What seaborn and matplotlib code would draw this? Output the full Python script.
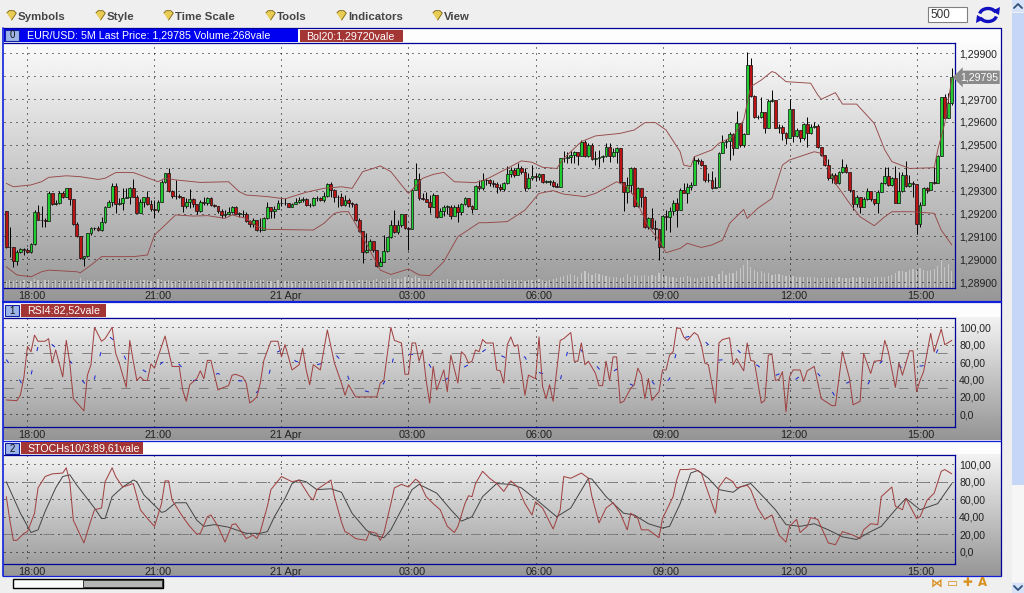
#chart of EUR/USD 5M candles with RSI and stochastic panes
import numpy as np
import pandas as pd
import seaborn as sns
import matplotlib.pyplot as plt
from matplotlib.patches import Rectangle, Arc, Polygon
from matplotlib.transforms import ScaledTranslation

#candle values in 1e-5 above 1.0, bar 0 is 17:30, 5 min per bar
first_open = 29211
closes = [29055,29052,28993,29033,29044,29040,29033,29065,29205,29172,
          29172,29169,29288,29240,29245,29288,29274,29310,29264,29155,
          29102,29004,29015,29114,29135,29135,29128,29165,29227,29249,
          29320,29242,29245,29266,29274,29310,29274,29204,29252,29271,
          29242,29218,29215,29252,29336,29376,29300,29277,29277,29274,
          29233,29252,29263,29240,29211,29252,29245,29266,29237,29234,
          29211,29194,29200,29208,29227,29200,29200,29197,29167,29154,
          29172,29128,29128,29179,29230,29211,29222,29245,29248,29245,
          29230,29242,29252,29260,29262,29237,29237,29266,29266,29260,
          29277,29329,29303,29274,29271,29237,29259,29245,29242,29172,
          29125,29033,29040,29081,29040,28971,28990,29038,29096,29150,
          29118,29150,29197,29135,29132,29303,29350,29266,29262,29252,
          29230,29281,29186,29213,29230,29230,29189,29230,29208,29242,
          29266,29233,29218,29320,29310,29346,29346,29335,29329,29317,
          29306,29332,29373,29390,29368,29397,29383,29310,29354,29365,
          29361,29371,29339,29339,29339,29320,29317,29441,29441,29448,
          29455,29470,29451,29514,29451,29500,29437,29441,29448,29451,
          29492,29451,29470,29485,29339,29296,29325,29400,29233,29312,
          29274,29140,29179,29135,29131,29055,29189,29186,29213,29245,
          29215,29303,29291,29315,29325,29434,29431,29412,29346,29346,
          29310,29317,29466,29514,29518,29547,29485,29594,29500,29546,
          29849,29713,29620,29620,29645,29575,29692,29696,29575,29579,
          29553,29528,29655,29539,29565,29528,29591,29550,29579,29582,
          29489,29456,29412,29354,29368,29335,29383,29405,29383,29303,
          29242,29271,29227,29262,29300,29262,29248,29296,29332,29364,
          29323,29354,29248,29300,29368,29320,29332,29329,29154,29237,
          29310,29303,29336,29332,29451,29708,29616,29681,29795]
highs = [29211,29140,29052,29041,29048,29048,29048,29073,29215,29237,
         29233,29179,29300,29291,29259,29300,29300,29310,29310,29264,
         29165,29102,29015,29116,29140,29143,29146,29186,29233,29259,
         29332,29335,29266,29310,29310,29317,29349,29281,29262,29274,
         29300,29259,29259,29259,29347,29379,29400,29303,29347,29285,
         29274,29266,29306,29266,29242,29259,29274,29274,29274,29242,
         29230,29218,29215,29227,29233,29233,29208,29215,29208,29172,
         29179,29172,29179,29186,29252,29230,29233,29259,29274,29266,
         29248,29248,29266,29274,29274,29266,29245,29271,29277,29274,
         29296,29335,29338,29306,29281,29288,29281,29266,29252,29245,
         29179,29121,29114,29087,29082,29041,29012,29106,29099,29172,
         29215,29172,29198,29189,29143,29306,29419,29376,29288,29296,
         29281,29288,29281,29223,29237,29237,29237,29237,29242,29248,
         29274,29266,29237,29325,29347,29376,29354,29349,29347,29339,
         29329,29339,29408,29402,29397,29422,29408,29397,29376,29412,
         29379,29376,29368,29347,29347,29347,29335,29444,29475,29470,
         29475,29475,29470,29521,29521,29507,29507,29475,29478,29456,
         29510,29507,29485,29489,29480,29339,29361,29402,29405,29317,
         29310,29277,29183,29223,29172,29131,29194,29215,29230,29259,
         29266,29310,29335,29335,29339,29451,29441,29437,29408,29376,
         29387,29361,29470,29543,29524,29558,29550,29649,29597,29553,
         29904,29878,29718,29630,29711,29645,29699,29740,29693,29591,
         29587,29558,29699,29655,29572,29562,29597,29620,29591,29601,
         29591,29492,29456,29437,29379,29376,29387,29437,29416,29383,
         29303,29281,29271,29274,29310,29296,29262,29303,29339,29402,
         29405,29361,29408,29383,29383,29431,29368,29344,29325,29252,
         29317,29317,29339,29405,29456,29711,29722,29725,29834]
lows = [29048,29012,28965,28975,29026,29019,29026,29026,29063,29172,
        29143,29140,29172,29237,29237,29242,29269,29271,29237,29150,
        29099,29000,28972,29012,29106,29128,29125,29125,29160,29227,
        29233,29201,29237,29215,29266,29242,29271,29201,29201,29230,
        29237,29213,29179,29208,29249,29335,29296,29266,29264,29266,
        29208,29223,29223,29227,29198,29208,29237,29237,29234,29227,
        29201,29179,29186,29194,29204,29198,29186,29186,29165,29143,
        29143,29125,29118,29128,29175,29179,29179,29223,29233,29237,
        29227,29230,29242,29248,29252,29233,29227,29233,29256,29255,
        29252,29274,29271,29252,29230,29234,29234,29230,29230,29169,
        29121,28983,29029,29041,29033,28968,28975,28990,29033,29092,
        29114,29111,29143,29131,29041,29132,29303,29259,29259,29249,
        29204,29230,29179,29183,29189,29198,29175,29208,29165,29194,
        29237,29230,29201,29223,29303,29303,29325,29320,29314,29288,
        29300,29300,29329,29361,29361,29368,29373,29300,29306,29347,
        29344,29347,29332,29332,29325,29314,29314,29317,29427,29419,
        29422,29419,29412,29451,29448,29448,29434,29412,29405,29427,
        29446,29427,29446,29422,29332,29213,29248,29288,29230,29230,
        29230,29135,29131,29131,29084,28997,29048,29128,29121,29194,
        29143,29215,29288,29248,29303,29329,29416,29408,29339,29339,
        29306,29310,29329,29466,29485,29434,29456,29492,29489,29492,
        29550,29708,29616,29612,29616,29550,29572,29689,29572,29553,
        29521,29504,29533,29514,29536,29514,29521,29489,29547,29572,
        29485,29451,29408,29347,29335,29329,29329,29379,29376,29296,
        29215,29230,29201,29227,29259,29256,29237,29201,29296,29329,
        29320,29320,29245,29248,29296,29317,29317,29274,29111,29143,
        29237,29291,29303,29329,29332,29451,29612,29620,29674]
volumes = [110,120,105,125,115,130,120,110,135,125,
           115,120,130,110,125,105,120,115,125,130,
           120,160,115,125,110,120,105,115,125,110,
           120,130,115,105,120,125,110,115,120,130,
           125,115,130,140,120,110,125,115,105,120,
           115,110,120,105,115,125,110,120,115,105,
           115,120,110,105,115,125,110,105,120,115,
           110,120,125,130,115,110,105,120,115,110,
           105,110,115,105,110,120,105,110,115,105,
           120,125,110,115,105,110,120,105,115,110,
           125,130,120,115,125,135,115,130,140,150,
           140,135,145,170,210,160,190,150,130,120,
           125,115,130,120,125,135,120,115,125,130,
           125,120,130,125,115,120,125,130,120,115,
           125,135,120,125,130,120,125,115,120,125,
           130,135,120,115,125,140,150,175,190,210,
           220,200,180,240,260,230,210,240,225,200,
           190,180,175,170,165,175,220,180,200,185,
           195,210,190,200,185,240,210,195,180,170,
           165,170,180,190,170,165,160,175,170,185,
           190,160,220,260,210,230,240,270,310,360,
           440,330,290,250,270,230,240,210,220,215,
           200,185,210,190,175,180,170,175,180,170,
           165,160,175,165,170,160,175,165,155,160,
           175,165,170,180,160,165,175,180,170,175,
           190,200,240,260,270,250,280,300,290,310,
           280,270,290,300,340,460,330,380,268]

#bollinger bands, sampled at the turning points
upper_x = [0,2,7,10,12,17,21,26,28,31,36,38,43,45,48,55,63,66,68,74,79,81,85,90,95,
           98,101,104,106,109,112,114,118,121,124,127,133,136,142,146,149,152,156,158,163,
           167,174,178,181,184,187,191,192,194,195,200,202,206,209,211,214,217,218,221,
           228,230,231,235,237,241,246,249,251,256,263,264,266,268]
upper_y = [29332,29317,29325,29339,29358,29365,29361,29349,29354,29379,29379,29368,29339,29354,29347,29336,
           29339,29296,29281,29274,29264,29274,29293,29310,29317,
           29310,29383,29397,29408,29383,29325,29288,29354,29371,29380,29339,29335,29349,29397,29430,29424,
           29402,29397,29441,29514,29539,29550,29565,29597,29597,29565,29470,29412,29405,29448,29478,29507,
           29536,29609,29754,29783,29820,29815,29776,29769,29718,29699,29728,29678,29678,29594,29478,29427,
           29397,29400,29478,29594,29790]
lower_x = [0,3,7,10,12,20,21,24,27,36,40,42,45,48,53,57,62,64,68,71,74,87,90,93,95,
           97,100,104,106,109,114,117,120,124,128,134,136,142,147,151,155,158,164,167,173,
           176,178,182,185,187,191,193,197,200,203,205,209,210,213,217,220,222,229,231,
           235,239,242,246,249,251,257,263,265,268]
lower_y = [28968,28932,28924,28946,28953,28946,28942,28975,29012,29012,29019,29106,29150,29194,29189,29191,
           29179,29194,29179,29143,29131,29128,29157,29201,29208,
           29208,29128,29012,28953,28934,28958,28932,28929,28990,29099,29160,29160,29165,29215,29288,29300,
           29285,29274,29288,29339,29317,29274,29143,29084,29029,29048,29070,29052,29063,29084,29157,29218,
           29179,29223,29266,29412,29434,29470,29463,29332,29245,29186,29147,29186,29208,29208,29201,29128,
           29063]

#rsi pane
rsi_x = [0,3,4,5,6,7,8,9,11,12,13,14,16,17,18,19,22,23,24,25,27,28,30,31,32,34,35,36,37,38,39,40,41,42,43,45,47,49,50,51,
         52,54,55,56,57,58,60,61,63,64,65,67,68,69,70,71,72,73,75,77,78,79,81,83,84,85,86,87,89,90,91,93,95,
         96,97,99,105,106,107,109,110,112,113,114,115,116,117,118,119,120,121,122,124,125,126,128,129,130,131,132,133,134,135,136,
         138,139,140,141,142,143,144,145,146,147,148,150,151,152,153,154,155,157,158,160,161,162,163,164,165,167,168,169,170,
         171,172,173,174,175,177,178,179,180,181,182,183,185,186,187,188,189,190,191,
         192,193,195,196,197,198,199,201,202,203,205,206,207,209,210,211,212,214,215,216,217,218,219,220,221,222,223,225,226,227,
         229,231,234,235,237,239,240,242,243,245,246,248,249,250,252,253,254,256,257,258,259,260,262,263,265,266,268]
rsi_y = [16.5,15.7,22,43,78,72,91,84,84,87,59,74,43,85,59,18,4,45,57,100,84,87,100,70,59,31,85,61,39,43,39,39,58,53,66,90,55,55,28,15,
         34,41,50,41,62,62,28,30,33,45,46,43,36,13,16,20,36,62,84,84,66,80,51,57,76,51,34,57,51,74,97,59,36,
         22,34,20,20,36,39,100,85,82,46,46,82,82,61,74,39,13,55,28,51,26,68,36,72,68,59,61,74,72,86,82,
         82,51,50,36,80,89,78,80,51,22,45,41,89,32,18,34,15,85,87,94,61,61,82,57,61,47,33,33,61,
         39,66,66,13,15,30,34,53,45,18,41,16,26,51,51,68,72,99,99,
         89,85,94,91,80,59,57,13,82,86,88,57,64,50,82,62,61,13,16,68,69,39,40,49,3,43,51,51,38,50,
         55,18,10,10,72,41,11,15,70,47,61,62,85,72,31,59,45,73,73,26,39,49,93,72,98,80,85]
rsi_ma_x = [0,3,5,7,8,9,11,13,16,19,21,24,25,26,27,29,32,34,38,41,44,47,50,52,56,60,64,69,71,74,76,79,82,87,90,93,
            96,97,100,105,107,109,110,115,119,121,124,127,131,133,137,140,143,147,149,153,157,158,159,161,164,167,170,173,175,179,183,185,188,189,190,
            192,196,199,201,204,207,210,213,217,220,223,226,230,233,235,237,240,244,246,248,252,254,258,262,264,268]
rsi_ma_y = [63,45,31,45,62,78,87,80,70,57,41,28,41,59,74,90,80,62,53,45,59,66,53,38,41,47,39,38,25,39,70,76,61,56,59,70,
            57,41,29,23,36,52,70,69,64,49,38,48,57,66,78,68,62,66,50,46,39,55,71,82,69,57,43,52,38,31,38,28,41,57,72,
            88,92,80,62,63,75,63,56,43,48,38,47,47,33,20,34,39,33,48,61,64,51,55,57,74,85]

#stochastic pane
stoch_x = [0,1,2,3,5,6,8,9,11,13,16,17,18,19,22,24,25,27,28,30,31,33,36,38,40,42,44,45,46,47,50,52,54,55,57,58,60,62,64,65,67,68,70,71,72,74,75,78,81,83,86,87,88,92,93,95,
           96,97,99,102,103,105,106,107,109,110,112,114,116,117,119,121,123,125,127,128,130,131,132,133,135,137,139,141,143,145,147,149,150,152,155,157,158,160,163,165,166,168,170,172,174,176,177,179,180,182,185,186,189,190,191,
           193,195,197,199,201,202,204,206,207,210,211,213,215,217,219,221,222,224,225,227,228,230,233,235,237,240,242,243,245,247,248,251,252,254,255,258,259,261,263,265,266,268]
stoch_y = [63,36,13,13,21,23,44,73,86,89,90,96,80,36,10,36,48,50,80,96,86,74,78,48,38,29,55,81,81,59,40,29,20,21,40,42,29,11,31,32,21,15,19,15,23,52,71,86,80,82,63,59,71,82,63,34,
           23,21,15,13,23,21,13,21,55,73,77,74,83,80,63,55,48,29,22,29,55,64,63,78,92,84,78,69,81,74,55,42,57,50,26,48,86,84,90,84,63,33,50,56,44,25,44,38,25,25,16,38,63,82,94,
           94,95,90,67,44,74,85,80,73,76,71,50,37,42,19,11,29,37,22,29,39,37,10,8,23,19,15,25,32,31,63,74,52,48,61,38,40,59,67,92,94,89]
signal_x = [0,4,7,9,11,14,16,18,20,25,27,28,30,33,36,37,39,44,45,48,51,54,56,59,63,68,72,74,76,79,81,83,85,88,92,95,
            98,102,104,107,109,112,115,117,122,126,129,132,135,139,143,146,151,156,160,165,166,170,175,178,182,186,188,191,
            194,196,199,202,206,208,211,215,218,221,225,229,233,237,241,245,248,252,255,259,264,268]
signal_y = [80,44,22,25,46,73,86,88,76,50,38,38,63,74,82,80,65,45,46,56,56,36,29,31,28,21,21,23,40,61,78,82,80,71,72,68,
            44,25,19,16,25,48,71,77,67,48,35,40,63,78,77,73,57,40,50,84,83,63,44,42,32,27,29,55,
            90,93,84,71,68,74,78,61,48,31,29,32,25,17,14,23,29,48,61,48,55,78]

price_ticks = [28900,29000,29100,29200,29300,29400,29500,29600,29700,29800,29900]
osc_ticks = [0,20,40,60,80,100]
osc_labels = ["0,0","20,00","40,00","60,00","80,00","100,00"]
time_ticks = [6,42,78,114,150,186,222,258]
time_labels = ["18:00","21:00","21 Apr","03:00","06:00","09:00","12:00","15:00"]
menu_items = ["Symbols","Style","Time Scale","Tools","Indicators","View"]
menu_pos = [18,107,175,277,348,444]

for name, vals in [("highs",highs),("lows",lows),("volumes",volumes)]:
    if len(vals) != len(closes):
        raise ValueError(f"{name} {len(vals)} vs {len(closes)}")
for xs, ys in [(upper_x,upper_y),(lower_x,lower_y),(rsi_x,rsi_y),(rsi_ma_x,rsi_ma_y),(stoch_x,stoch_y),(signal_x,signal_y)]:
    if len(xs) != len(ys):
        raise ValueError(f"{len(xs)} vs {len(ys)}")

sns.set_style("white")
plt.rcParams["font.family"] = ["Liberation Sans","DejaVu Sans"]

W, H = 1024, 593
fig = plt.figure(figsize=(W/100, H/100), dpi=100, facecolor="#efefef")
dark = "#000099"
bright = "#1020d8"

def px_axes(left, top, right, bottom):
    return fig.add_axes([left/W, 1-bottom/H, (right-left)/W, (bottom-top)/H])

#window chrome goes on a full size axes in pixel units
bg = fig.add_axes([0, 0, 1, 1], zorder=-1)
bg.set_xlim(0, W)
bg.set_ylim(H, 0)
bg.axis("off")

def pane(top, bottom, head, c_top, c_bottom):
    bg.add_patch(Rectangle((3, head), 998, top-head, fc="#fdfdfd", ec="none"))
    grad = np.linspace(c_top, c_bottom, 128).reshape(-1, 1)
    bg.imshow(grad, extent=(3, 1001, bottom, top), cmap="gray", vmin=0, vmax=1, aspect="auto", zorder=0.5)

pane(42, 302, 28, .985, .59)
pane(317, 440, 303, .95, .58)
pane(454, 576, 441, .95, .59)
bg.set_xlim(0, W)
bg.set_ylim(H, 0)

bg.plot([1001, 1001], [28, 576], color=dark, lw=.9, zorder=3)
bg.plot([3, 1001], [28, 28], color=dark, lw=.9, zorder=3)
bg.plot([3, 1001], [576, 576], color=bright, lw=.9, zorder=3)
bg.plot([3, 3], [28, 576], color=bright, lw=1.2, zorder=3)
bg.plot([3, 1001], [302, 302], color=bright, lw=1.6, zorder=3)
bg.plot([3, 1001], [440.5, 440.5], color=bright, lw=.9, zorder=3)

#tabs above each pane
def tab(x0, x1, y0, y1, color, label, lx):
    bg.add_patch(Rectangle((x0, y0), x1-x0, y1-y0, fc=color, ec="none", zorder=4))
    bg.text(lx, (y0+y1)/2+.3, label, color="white", fontsize=7.7, va="center", ha="left", zorder=5)

def button(y, label):
    bg.add_patch(Rectangle((5, y), 14, 11, fc="#9db4e8", ec="#1020a0", lw=.8, zorder=6))
    bg.text(12, y+5.5, label, color="#111111", fontsize=7, va="center", ha="center", zorder=7)

tab(4, 298, 29, 42, "#0000f0", "EUR/USD: 5M Last Price: 1,29785 Volume:268vale", 27)
tab(300, 403, 30, 42, "#a33535", "Bol20:1,29720vale", 306)
button(30, "0")
tab(21, 106, 304, 317, "#a33535", "RSI4:82,52vale", 27)
button(305, "1")
tab(21, 143, 442, 454, "#a33535", "STOCHs10/3:89,61vale", 27)
button(443, "2")

#toolbar
flag = [(-1, .5), (-.5, 1), (.5, 1), (1, .5), (0, -1)]
for lab, pos in zip(menu_items, menu_pos):
    bg.scatter([pos-7], [14.5], marker=flag, s=48, color="#e8cc55", edgecolor="#7a6010", lw=.6, zorder=5)
    bg.text(pos, 17, lab, fontsize=8.2, fontweight="bold", color="#454545", va="center", ha="left")
bg.add_patch(Rectangle((928, 7), 39, 15, fc="white", ec="#808080", lw=.8))
bg.text(930, 15, "500", fontsize=8.5, color="#333333", va="center", ha="left")
bg.add_patch(Arc((988, 15), 17, 13, theta1=190, theta2=340, color="#1010c0", lw=2.4))
bg.add_patch(Arc((988, 15), 17, 13, theta1=10, theta2=160, color="#1010c0", lw=2.4))
bg.add_patch(Polygon([[992, 11], [1000, 7], [999, 15]], fc="#1010c0", ec="none"))
bg.add_patch(Polygon([[984, 19], [976, 23], [977, 15]], fc="#1010c0", ec="none"))

#scrollbars
bg.add_patch(Rectangle((1012, 0), 12, 12, fc="#d5e2fa", ec="none"))
bg.add_patch(Rectangle((1012, 13), 12, 472, fc="#c6d6f6", ec="none"))
bg.add_patch(Rectangle((1012, 485), 12, 97, fc="#f6f6f6", ec="none"))
bg.add_patch(Rectangle((1012, 583), 12, 10, fc="#d5e2fa", ec="none"))
bg.plot([1014, 1018, 1022], [8, 4, 8], color="#30507a", lw=1.3)
bg.plot([1014, 1018, 1022], [586, 590, 586], color="#30507a", lw=1.3)
bg.add_patch(Rectangle((13, 579), 150, 9, fc="#fafafa", ec="black", lw=1))
bg.add_patch(Rectangle((83, 580), 79, 7, fc="#b5b5b5", ec="#333333", lw=.7))

#zoom icons bottom right
for lab, pos in zip(["\u22c8", "\u25ad", "\u271a", "A"], [937, 952, 967, 983]):
    bg.text(pos, 583, lab, fontsize=8.5, fontweight="bold", color="#d89020", va="center", ha="center",
            family=["DejaVu Sans"])

def style_ax(ax, yticks, ylabels):
    ax.patch.set_visible(False)
    ax.set_xlim(-0.65, 268.9)
    ax.set_xticks(time_ticks)
    ax.set_xticklabels(time_labels)
    ax.set_yticks(yticks)
    ax.set_yticklabels(ylabels)
    ax.yaxis.tick_right()
    ax.set_xlabel("")
    ax.set_ylabel("")
    ax.tick_params(axis="x", length=0, pad=2.2, labelsize=7.8, labelcolor="#222222")
    ax.tick_params(axis="y", length=0, pad=3, labelsize=7.6, labelcolor="#222222")
    ax.grid(True, color="black", lw=.72, linestyle=(0, (1, 5)))
    ax.set_axisbelow(True)
    for side in ["top", "right", "bottom"]:
        ax.spines[side].set_color(dark)
        ax.spines[side].set_linewidth(.9)
    ax.spines["left"].set_visible(False)
    shift = ScaledTranslation(4/100, 0, fig.dpi_scale_trans)
    for lab in ax.get_xticklabels():
        lab.set_transform(lab.get_transform()+shift)

def line(ax, xs, ys, color, lw, **kw):
    df = pd.DataFrame({"x": xs, "y": ys})
    sns.lineplot(data=df, x="x", y="y", ax=ax, color=color, lw=lw, estimator=None, errorbar=None,
                 sort=False, legend=False, **kw)

#price pane
ax = px_axes(4, 42.7, 955, 288)
ax_vol = ax.twinx()
ax_vol.set_position(ax.get_position())
ax.set_zorder(3)
ax_vol.set_zorder(2)
ax_vol.patch.set_visible(False)
bars = np.arange(len(closes))
ax_vol.bar(bars, volumes, width=.35, color="#c6c6c6", linewidth=0)
ax_vol.set_ylim(0, 3860)
ax_vol.axis("off")

to_price = lambda v: 1 + np.asarray(v)/1e5
close_p = to_price(closes)
open_p = to_price([first_open]+closes[:-1])
high_p = np.maximum(to_price(highs), np.maximum(open_p, close_p))
low_p = np.minimum(to_price(lows), np.minimum(open_p, close_p))

ax.vlines(bars, low_p, high_p, color="black", lw=.7, zorder=3)
up = close_p >= open_p
body = np.maximum(np.abs(close_p-open_p), 1e-5)
ax.bar(bars[up], body[up], bottom=open_p[up], width=.8, color="#20cc30", edgecolor="#111111", linewidth=.5, zorder=4)
ax.bar(bars[~up], body[~up], bottom=close_p[~up], width=.8, color="#bc1414", edgecolor="#111111", linewidth=.5, zorder=4)
line(ax, upper_x, to_price(upper_y), "#964848", .65, zorder=5)
line(ax, lower_x, to_price(lower_y), "#964848", .65, zorder=5)
ax.set_ylim(1.28875, 1.29946)
#the 1,29800 label sits behind the last price tag in the picture
price_labels = ["" if p == 29800 else f"{p/1e5+1:.5f}".replace(".", ",") for p in price_ticks]
style_ax(ax, to_price(price_ticks), price_labels)
ax.annotate(f"{close_p[-1]:.5f}".replace(".", ","), xy=(1, close_p[-1]), xycoords=("axes fraction", "data"),
            xytext=(3.5, 0), textcoords="offset points", color="white", fontsize=7.6, va="center", ha="left",
            annotation_clip=False, zorder=10,
            bbox=dict(boxstyle="larrow,pad=0.16", fc="#8a8a8a", ec="none"))

#rsi pane
ax2 = px_axes(4, 317.5, 955, 426.5)
ax2.set_zorder(3)
for lev in [70, 30]:
    ax2.axhline(lev, color="#808080", lw=.7, linestyle=(0, (10, 10)), zorder=1.5)
line(ax2, rsi_ma_x, rsi_ma_y, "#1a2cd0", .75, linestyle=(0, (4, 19)), zorder=3)
line(ax2, rsi_x, rsi_y, "#a04040", .72, zorder=4)
ax2.set_ylim(-14, 111.3)
style_ax(ax2, osc_ticks, osc_labels)

#stochastic pane
ax3 = px_axes(4, 454.5, 955, 563.5)
ax3.set_zorder(3)
for lev in [80, 20]:
    ax3.axhline(lev, color="#808080", lw=.7, linestyle=(0, (10, 10)), zorder=1.5)
line(ax3, signal_x, signal_y, "#444444", .7, zorder=3)
line(ax3, stoch_x, stoch_y, "#a04040", .72, zorder=4)
ax3.set_ylim(-13.5, 111.2)
style_ax(ax3, osc_ticks, osc_labels)

fig.savefig("out.png", dpi=100, facecolor=fig.get_facecolor())
